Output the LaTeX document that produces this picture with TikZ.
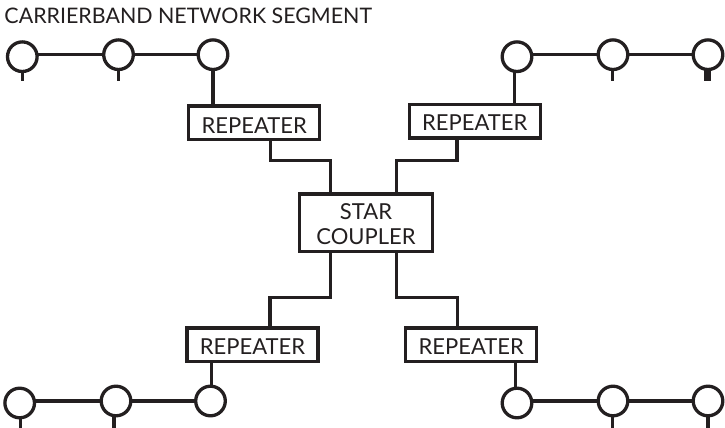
\documentclass[tikz,border=0pt]{standalone}
\usepackage{fontspec}
\setmainfont{Lato}
\definecolor{ink}{HTML}{231F20}
\tikzset{
  every node/.append style={outer sep=0pt,inner sep=0pt,text=ink},
  box/.style={draw=ink,line width=3.3pt,fill=white,font=\fontsize{22}{24.5}\selectfont,align=center},
  repbox/.style={box,minimum width=131pt,minimum height=33.5pt},
  starbox/.style={box,minimum width=133pt,minimum height=57.5pt},
  station/.style={circle,draw=ink,line width=3.3pt,fill=white,minimum size=29.6pt},
  wire/.style={draw=ink,line width=3.3pt,line cap=butt,line join=miter},
  tap/.style={draw=ink,line width=3.3pt},
  heavytap/.style={draw=ink,line width=7pt}
}
\begin{document}
\begin{tikzpicture}[x=1pt,y=-1pt]
\useasboundingbox (0,0) rectangle (725,428);
\fill[white] (0,0) rectangle (725,428);
\node[anchor=base west,font=\fontsize{21.4}{24}\selectfont] (title) at (4.5,23.4) {CARRIERBAND NETWORK SEGMENT};

\node[starbox] (star) at (366,222.8) {\raisebox{-1.5pt}[\height][\depth]{STAR}\\[1pt]\raisebox{-1.5pt}[\height][\depth]{COUPLER}};
\node[repbox] (rtl) at (254.3,122.7) {\raisebox{-10.6pt}[0pt][0pt]{REPEATER}};
\node[repbox] (rtr) at (474.8,121.2) {\raisebox{-8.8pt}[0pt][0pt]{REPEATER}};
\node[repbox] (rbl) at (252.5,344.8) {\raisebox{-9.2pt}[0pt][0pt]{REPEATER}};
\node[repbox] (rbr) at (471.2,344.8) {\raisebox{-9.2pt}[0pt][0pt]{REPEATER}};

\node[station] (tl1) at (22.3,56.7) {};
\node[station] (tl2) at (118.5,54.7) {};
\node[station] (tl3) at (213,54.7) {};
\node[station] (tr1) at (517,56.7) {};
\node[station] (tr2) at (613,54.7) {};
\node[station] (tr3) at (708,54.7) {};
\node[station] (bl1) at (19.7,403) {};
\node[station] (bl2) at (116,401) {};
\node[station] (bl3) at (210.5,401) {};
\node[station] (br1) at (517,403) {};
\node[station] (br2) at (613,401) {};
\node[station] (br3) at (708,401) {};

\coordinate (e1) at (22.3,80.7);
\coordinate (e2) at (118.3,80.7);
\coordinate (e3) at (612.7,80.7);
\coordinate (e4) at (707.3,80.7);
\coordinate (e5) at (20.7,428);
\coordinate (e6) at (114,428);
\coordinate (e7) at (612.7,428);
\coordinate (e8) at (708,428);

% segment lines
\path[wire] (tl1.east |- tl2.east) -- (tl2.west);
\path[wire] (tl2.east) -- (tl3.west);
\path[wire] (tr1.east |- tr2.east) -- (tr2.west);
\path[wire] (tr2.east) -- (tr3.west);
\path[wire] (bl1.east |- bl2.east) -- (bl2.west);
\path[wire] (bl2.east) -- (bl3.west);
\path[wire] (br1.east |- br2.east) -- (br2.west);
\path[wire] (br2.east) -- (br3.west);

% drop stubs
\path[tap] (e1 |- tl1.south) -- (e1);
\path[tap] (e2 |- tl2.south) -- (e2);
\path[tap] (e3 |- tr2.south) -- (e3);
\path[heavytap] (e4 |- tr3.south) -- (e4);
\path[tap] (e5 |- bl1.south) -- (e5);
\path[tap] (e6 |- bl2.south) -- (e6);
\path[tap] (e7 |- br2.south) -- (e7);
\path[tap] (e8 |- br3.south) -- (e8);

% circles to repeaters
\path[wire] (tl3.south) -- (tl3.south |- rtl.north);
\path[wire] ([xshift=-2.3pt]tr1.south) -- ([xshift=-2.3pt]tr1.south |- rtr.north);
\path[wire] ([xshift=0.8pt]bl3.north) -- ([xshift=0.8pt]bl3.north |- rbl.south);
\path[wire] ([xshift=-1.3pt]br1.north) -- ([xshift=-1.3pt]br1.north |- rbr.south);

% repeaters to star
\path[wire] ([xshift=16.4pt]rtl.south) -- ++(0,21) -| ([xshift=-35.3pt]star.north);
\path[wire] ([xshift=-17.8pt]rtr.south) -- ++(0,22.5) -| ([xshift=30.7pt]star.north);
\path[wire] ([xshift=17.5pt]rbl.north) -- ++(0,-30.5) -| ([xshift=-35.3pt]star.south);
\path[wire] ([xshift=-13.5pt]rbr.north) -- ++(0,-30.5) -| ([xshift=30.7pt]star.south);
\end{tikzpicture}
\end{document}
